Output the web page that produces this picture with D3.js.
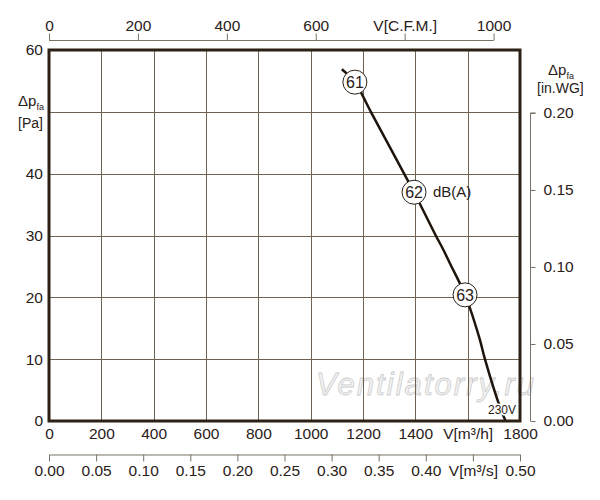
<!DOCTYPE html>
<html>
<head>
<meta charset="utf-8">
<script src="https://cdn.jsdelivr.net/npm/d3@7"></script>
<style>
  body { margin: 0; background: #fff; }
  svg text { font-family: "Liberation Sans", Arial, sans-serif; fill: #2a2018; }
</style>
</head>
<body>
<div id="chart"></div>
<script>
// fan curve
var flowM3h  = [1119, 1169, 1230, 1357, 1395, 1478, 1507, 1532, 1590, 1645, 1666, 1723, 1745];
var pressure = [56.9, 54.8, 50.0, 40.0, 37.0, 30.0, 27.7, 25.5, 20.4, 13.4, 10.0, 2.3, 0];

// noise marks on the curve
var noiseText = ["61", "62", "63"];
var noiseFlow = [1169, 1395, 1590];
var noisePa   = [54.8, 37.0, 20.4];

var m3hTicks  = [0, 200, 400, 600, 800, 1000, 1200, 1400, 1600, 1800];
var paTicks   = [0, 10, 20, 30, 40, 50, 60];
var paLabels  = [0, 10, 20, 30, 40, 60];   // 50 is left out, the title sits there
var cfmTicks  = [0, 200, 400, 600, 800, 1000];
var m3sTicks  = [0, 0.05, 0.10, 0.15, 0.20, 0.25, 0.30, 0.35, 0.40, 0.45, 0.50];
var inwgTicks = [0, 0.05, 0.10, 0.15, 0.20];

var W = 600, H = 500;
var pL = 49, pR = 520, pT = 50, pB = 421;

var svg = d3.select("#chart").append("svg")
    .attr("width", W)
    .attr("height", H);

var x = d3.scaleLinear().domain([0, 1800]).range([pL, pR]);
var y = d3.scaleLinear().domain([0, 60]).range([pB, pT]);
var xCfm = d3.scaleLinear().domain([0, 1800 / 1.699]).range([pL, pR]);
var xM3s = d3.scaleLinear().domain([0, 0.5]).range([pL, pR]);
var yInwg = d3.scaleLinear().domain([0, 60 / 249.09]).range([pB, pT]);

// watermark
svg.append("text")
    .attr("x", 316)
    .attr("y", 395)
    .attr("textLength", 218)
    .style("font-size", "31px")
    .style("font-style", "italic")
    .style("fill", "#f4f4f4")
    .style("stroke", "#cdcdcd")
    .style("stroke-width", 0.8)
    .text("Ventilatorry.ru");

// grid
var grid = svg.append("g").attr("stroke", "#6e6253").attr("stroke-width", 1);
grid.selectAll(".vx")
  .data(m3hTicks.slice(1, -1))
  .enter().append("line")
    .attr("x1", d => Math.round(x(d)) + 0.5)
    .attr("x2", d => Math.round(x(d)) + 0.5)
    .attr("y1", pT)
    .attr("y2", pB);
grid.selectAll(".hy")
  .data(paTicks.slice(1, -1))
  .enter().append("line")
    .attr("y1", d => Math.round(y(d)) + 0.5)
    .attr("y2", d => Math.round(y(d)) + 0.5)
    .attr("x1", pL)
    .attr("x2", pR);

// curve
var pts = flowM3h.map((d, i) => [d, pressure[i]]);
var line = d3.line()
    .x(d => x(d[0]))
    .y(d => y(d[1]))
    .curve(d3.curveCatmullRom);

svg.append("path")
    .datum(pts)
    .attr("d", line)
    .attr("fill", "none")
    .attr("stroke", "#1e140c")
    .attr("stroke-width", 2.5);

// frame
svg.append("rect")
    .attr("x", pL)
    .attr("y", pT)
    .attr("width", pR - pL)
    .attr("height", pB - pT)
    .attr("fill", "none")
    .attr("stroke", "#2d2116")
    .attr("stroke-width", 3);

// noise circles
var marks = svg.selectAll(".noise")
  .data(noiseText)
  .enter().append("g")
    .attr("transform", (d, i) => "translate(" + x(noiseFlow[i]) + "," + y(noisePa[i]) + ")");
marks.append("circle")
    .attr("r", 12)
    .attr("fill", "#fff")
    .attr("stroke", "#2a2018")
    .attr("stroke-width", 1);
marks.append("text")
    .attr("text-anchor", "middle")
    .attr("dy", "0.36em")
    .style("font-size", "16px")
    .text(d => d);

svg.append("text")
    .attr("x", x(noiseFlow[1]) + 19)
    .attr("y", y(noisePa[1]) + 5)
    .style("font-size", "15px")
    .text("dB(A)");

svg.append("text")
    .attr("x", 488)
    .attr("y", 414)
    .style("font-size", "12px")
    .style("stroke", "#fff")
    .style("stroke-width", 3)
    .style("paint-order", "stroke")
    .text("230V");

function styleAxis(g) {
  g.selectAll("text").style("font-size", "15.5px");
  g.selectAll("path, line").attr("stroke", "#7a7266");
}

// bottom m3/h labels
var axM3h = svg.append("g")
    .attr("transform", "translate(0," + pB + ")")
    .call(d3.axisBottom(x).tickValues(m3hTicks).tickSize(0).tickPadding(7)
      .tickFormat(d => d === 1600 ? "V[m³/h]" : d));
axM3h.select(".domain").remove();
styleAxis(axM3h);

// left Pa labels
var axPa = svg.append("g")
    .attr("transform", "translate(" + (pL - 1) + ",0)")
    .call(d3.axisLeft(y).tickValues(paLabels).tickSize(0).tickPadding(5));
axPa.select(".domain").remove();
styleAxis(axPa);

// top CFM
var axCfm = svg.append("g")
    .attr("transform", "translate(0,40.5)")
    .call(d3.axisTop(xCfm).tickValues(cfmTicks).tickSize(7).tickSizeOuter(0).tickPadding(3)
      .tickFormat(d => d === 800 ? "V[C.F.M.]" : d));
axCfm.select(".domain").attr("d", "M" + xCfm(0) + ",0H" + xCfm(1000));
styleAxis(axCfm);

// bottom m3/s
var axM3s = svg.append("g")
    .attr("transform", "translate(0,454.5)")
    .call(d3.axisBottom(xM3s).tickValues(m3sTicks).tickSize(7).tickSizeOuter(0).tickPadding(3)
      .tickFormat(d => Math.abs(d - 0.45) < 1e-9 ? "V[m³/s]" : d3.format(".2f")(d)));
styleAxis(axM3s);

// right in.WG
var axIn = svg.append("g")
    .attr("transform", "translate(530.5,0)")
    .call(d3.axisRight(yInwg).tickValues(inwgTicks).tickSize(5).tickSizeOuter(0).tickPadding(8)
      .tickFormat(d3.format(".2f")));
axIn.select(".domain").attr("d", "M5," + yInwg(0.2) + "H0V" + yInwg(0));
styleAxis(axIn);

// axis titles
var t1 = svg.append("text").attr("x", 18).attr("y", 106).style("font-size", "15px");
t1.append("tspan").text("Δp");
t1.append("tspan").attr("dy", 4).style("font-size", "9px").text("fa");
svg.append("text").attr("x", 18).attr("y", 128).style("font-size", "14px").text("[Pa]");

var t2 = svg.append("text").attr("x", 548).attr("y", 75).style("font-size", "15px");
t2.append("tspan").text("Δp");
t2.append("tspan").attr("dy", 4).style("font-size", "9px").text("fa");
svg.append("text").attr("x", 537).attr("y", 93).style("font-size", "14px").text("[in.WG]");
</script>
</body>
</html>
